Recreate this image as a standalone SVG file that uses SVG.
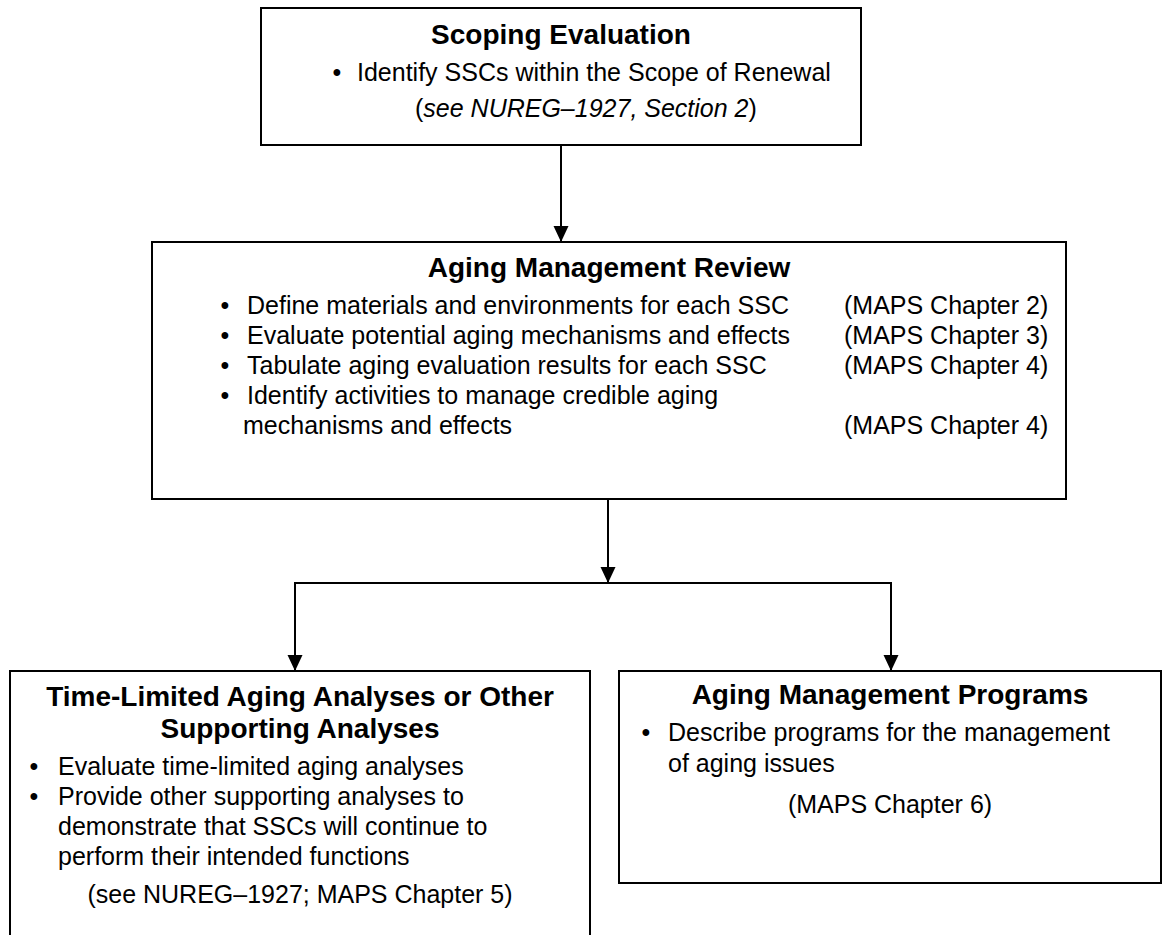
<svg xmlns="http://www.w3.org/2000/svg" width="1164" height="935" viewBox="0 0 1164 935">
<defs>
<style>
.box{fill:#fff;stroke:#000;stroke-width:2}
.ln{fill:none;stroke:#000;stroke-width:2}
text{font-family:"Liberation Sans",Arial,sans-serif;fill:#000}
.t{font-size:28px;font-weight:bold;text-anchor:middle}
.b{font-size:25px}
.c{font-size:25px;text-anchor:middle}
.bul{font-size:25px;text-anchor:middle}
</style>
<marker id="ah" markerUnits="userSpaceOnUse" markerWidth="16" markerHeight="16" refX="16" refY="7.5" orient="auto">
<path d="M0,0 L16,7.5 L0,15 Z" fill="#000"/>
</marker>
</defs>
<rect width="1164" height="935" fill="#fff"/>
<g id="connectors">
<line class="ln" x1="561" y1="145" x2="561" y2="242" marker-end="url(#ah)"/>
<line class="ln" x1="608" y1="499" x2="608" y2="583" marker-end="url(#ah)"/>
<polyline class="ln" points="295,671 295,583 891,583 891,671"/>
<line class="ln" x1="295" y1="583" x2="295" y2="671" marker-end="url(#ah)"/>
<line class="ln" x1="891" y1="583" x2="891" y2="671" marker-end="url(#ah)"/>
</g>
<g id="scoping">
<rect class="box" x="261" y="8" width="600" height="137"/>
<text class="t" x="561" y="44">Scoping Evaluation</text>
<text class="bul" x="337" y="81">•</text>
<text class="b" x="357" y="81">Identify SSCs within the Scope of Renewal</text>
<text class="b" x="415" y="117">(<tspan font-style="italic">see NUREG–1927, Section 2</tspan>)</text>
</g>
<g id="amr">
<rect class="box" x="152" y="242" width="914" height="257"/>
<text class="t" x="609" y="277">Aging Management Review</text>
<text class="bul" x="225" y="314">•</text>
<text class="b" x="247" y="314">Define materials and environments for each SSC</text>
<text class="b" x="844" y="314">(MAPS Chapter 2)</text>
<text class="bul" x="225" y="344">•</text>
<text class="b" x="247" y="344">Evaluate potential aging mechanisms and effects</text>
<text class="b" x="844" y="344">(MAPS Chapter 3)</text>
<text class="bul" x="225" y="374">•</text>
<text class="b" x="247" y="374">Tabulate aging evaluation results for each SSC</text>
<text class="b" x="844" y="374">(MAPS Chapter 4)</text>
<text class="bul" x="225" y="404">•</text>
<text class="b" x="247" y="404">Identify activities to manage credible aging</text>
<text class="b" x="243" y="434">mechanisms and effects</text>
<text class="b" x="844" y="434">(MAPS Chapter 4)</text>
</g>
<g id="tlaa">
<rect class="box" x="10" y="671" width="580" height="280"/>
<text class="t" x="300" y="706">Time-Limited Aging Analyses or Other</text>
<text class="t" x="300" y="738">Supporting Analyses</text>
<text class="bul" x="34" y="775">•</text>
<text class="b" x="58" y="775">Evaluate time-limited aging analyses</text>
<text class="bul" x="34" y="805">•</text>
<text class="b" x="58" y="805">Provide other supporting analyses to</text>
<text class="b" x="58" y="835">demonstrate that SSCs will continue to</text>
<text class="b" x="58" y="865">perform their intended functions</text>
<text class="c" x="300" y="903">(see NUREG–1927; MAPS Chapter 5)</text>
</g>
<g id="amp">
<rect class="box" x="619" y="671" width="542" height="212"/>
<text class="t" x="890" y="704">Aging Management Programs</text>
<text class="bul" x="646" y="741">•</text>
<text class="b" x="668" y="741">Describe programs for the management</text>
<text class="b" x="668" y="772">of aging issues</text>
<text class="c" x="890" y="813">(MAPS Chapter 6)</text>
</g>
</svg>
